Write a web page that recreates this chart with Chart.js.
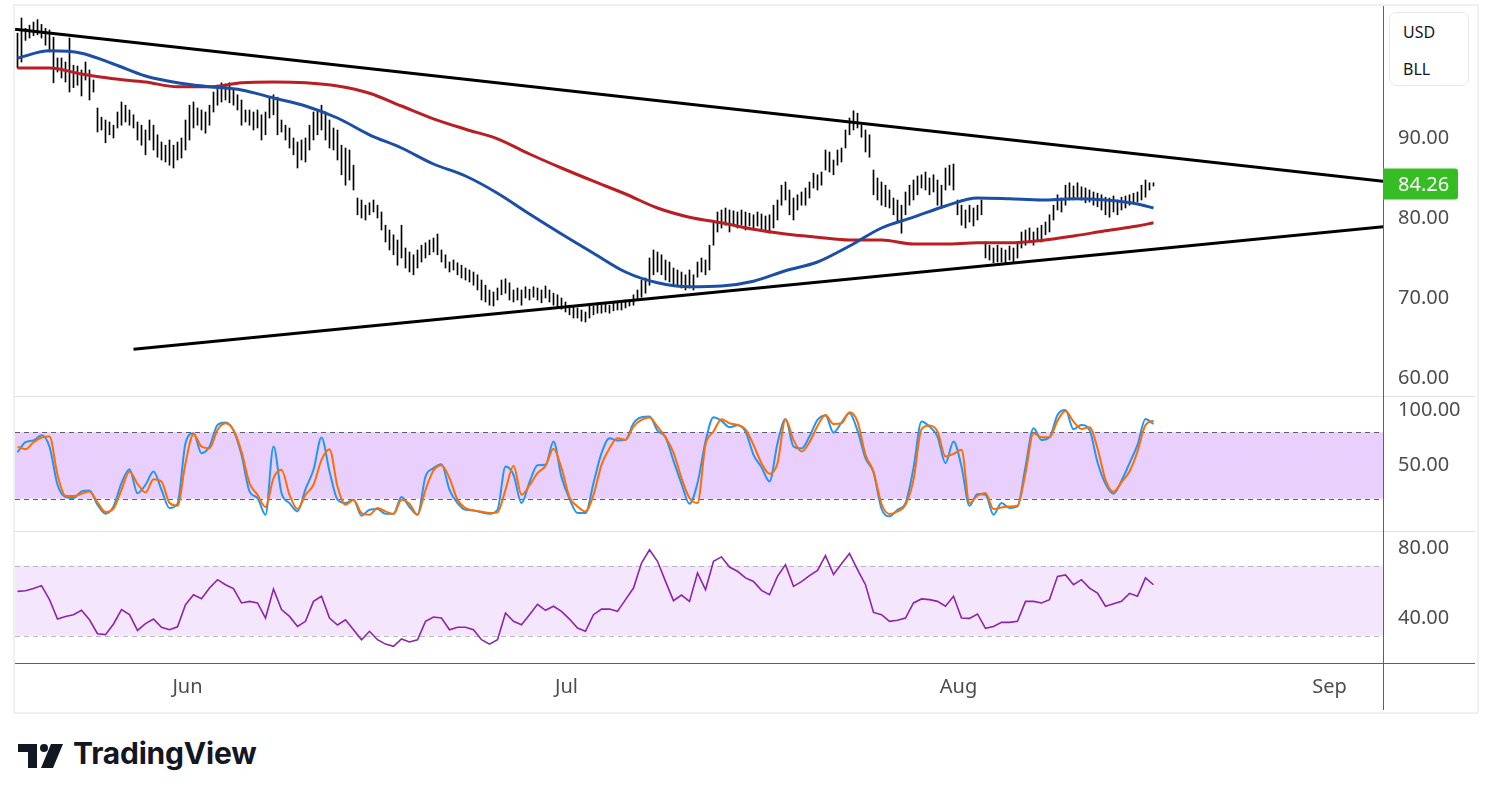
<!DOCTYPE html>
<html>
<head>
<meta charset="utf-8">
<title>BLL</title>
<script src="https://cdn.jsdelivr.net/npm/chart.js@4.4.1/dist/chart.umd.min.js"></script>
<style>
  body { margin: 0; width: 1491px; height: 801px; background: #fff; position: relative; overflow: hidden; font-family: "Noto Sans", sans-serif; }
  .frame { position: absolute; left: 13px; top: 4px; width: 1462px; height: 706px; border: 2px solid #f0f0f0; }
  .chart-box { position: absolute; left: 15px; top: 6px; width: 1460px; height: 704px; }
  .unit-box { position: absolute; left: 1389px; top: 12px; width: 78px; height: 72px; border: 1px solid #e8e8e8; border-radius: 7px; background: #fff; color: #131722; font-size: 16px; }
  .unit-box div { position: absolute; left: 13px; }
  .logo { position: absolute; left: 18px; top: 740px; height: 34px; }
  .logo svg { position: absolute; left: 0; top: 4px; }
  .logo span { position: absolute; left: 55px; top: -5px; font-family: Inter, sans-serif; font-weight: 700; font-size: 30px; color: #131722; letter-spacing: -0.2px; white-space: nowrap; }
</style>
</head>
<body>
<div class="frame"></div>
<div class="chart-box"><canvas id="priceChart"></canvas></div>
<div class="unit-box"><div style="top:8px">USD</div><div style="top:45px">BLL</div></div>
<div class="logo">
  <svg width="46" height="24" viewBox="0 0 46 24">
    <path d="M0 0 H19 V24 H10 V8 H0 Z" fill="#131722"/>
    <circle cx="26" cy="4" r="4" fill="#131722"/>
    <path d="M33 0 H45 L35 24 H23 Z" fill="#131722"/>
  </svg>
  <span>TradingView</span>
</div>
<script>
// price bars, one per session slot
const barHigh = [
  103.1, 105.0, 103.7, 104.1, 104.5, 104.8, 104.2, 103.7, 103.5, 102.6,
  100.0, 100.0, 99.5, 102.5, 99.1, 99.0, 98.5, 99.5, 98.5, 97.25,
  93.75, 92.6, 92.25, 92.0, 91.6, 93.25, 94.5, 94.1, 93.5, 92.9,
  92.0, 91.6, 91.0, 92.25, 91.6, 90.4, 89.5, 89.1, 89.75, 89.1,
  89.5, 90.0, 92.25, 94.1, 94.5, 93.75, 93.5, 93.25, 94.1, 95.75,
  96.6, 96.9, 96.75, 96.9, 96.0, 95.4, 94.75, 93.5, 93.5, 93.25,
  93.5, 92.9, 93.25, 95.0, 95.4, 95.1, 92.25, 91.6, 91.25, 90.0,
  89.5, 89.75, 90.0, 91.6, 93.25, 93.5, 94.1, 93.25, 92.25, 91.25,
  91.0, 89.1, 88.75, 88.5, 86.6, 82.5, 82.25, 81.6, 81.9, 82.25,
  81.6, 80.75, 79.1, 78.5, 77.9, 77.25, 79.1, 76.25, 75.75, 75.4,
  76.0, 76.6, 76.9, 77.25, 77.5, 78.0, 76.0, 75.4, 74.5, 74.75,
  74.4, 74.1, 73.75, 73.5, 73.25, 72.9, 72.25, 71.6, 71.0, 70.75,
  71.25, 72.25, 72.4, 71.9, 71.0, 71.25, 71.0, 71.4, 71.1, 71.4,
  71.25, 71.0, 71.5, 71.0, 70.6, 70.4, 70.0, 69.5, 69.1, 69.0,
  68.75, 68.5, 68.25, 69.1, 69.0, 69.4, 69.1, 69.4, 69.1, 69.4,
  69.5, 69.4, 69.75, 69.75, 70.4, 71.0, 72.25, 72.5, 75.0, 76.0,
  75.75, 75.4, 74.75, 74.5, 73.75, 73.5, 73.25, 72.9, 73.5, 72.9,
  74.5, 75.0, 74.75, 76.6, 79.5, 80.75, 81.0, 81.25, 81.0, 80.9,
  80.75, 81.0, 80.75, 80.6, 80.4, 80.75, 80.5, 80.25, 80.4, 81.6,
  82.25, 84.1, 84.5, 83.5, 82.5, 82.9, 83.25, 83.75, 84.5, 85.6,
  85.4, 85.75, 88.5, 88.25, 87.25, 88.5, 88.75, 91.0, 92.5, 93.4,
  93.1, 91.6, 91.0, 90.4, 86.0, 85.0, 84.5, 84.1, 83.5, 82.5,
  82.25, 81.6, 83.25, 84.1, 84.75, 85.25, 85.4, 85.75, 85.0, 85.4,
  84.75, 84.1, 86.25, 86.6, 86.75, 82.25, 81.6, 81.0, 81.6, 81.25,
  81.6, 82.25, 77.0, 76.6, 76.25, 76.6, 76.25, 76.0, 76.5, 76.25,
  76.9, 78.25, 78.5, 78.75, 78.25, 78.75, 79.1, 79.5, 80.4, 81.6,
  82.9, 82.5, 84.1, 84.4, 84.0, 84.4, 83.9, 83.75, 83.5, 83.25,
  83.1, 82.9, 82.6, 82.5, 82.75, 82.25, 82.6, 82.75, 82.9, 83.1,
  83.25, 84.1, 84.75, 84.4, 84.4
];
const barLow = [
  98.75, 99.5, 102.2, 102.5, 102.8, 102.9, 102.5, 101.6, 100.75, 96.9,
  98.25, 97.5, 97.0, 95.75, 96.3, 96.6, 95.25, 97.25, 94.75, 95.75,
  90.75, 91.0, 89.4, 90.4, 90.0, 91.25, 91.6, 92.0, 91.6, 91.25,
  89.75, 89.1, 87.9, 89.75, 88.5, 87.6, 87.25, 87.0, 86.6, 86.25,
  87.25, 87.5, 88.5, 89.75, 91.25, 91.6, 91.0, 90.6, 91.6, 93.25,
  94.1, 94.5, 94.75, 94.4, 94.1, 93.5, 91.6, 92.0, 91.6, 91.0,
  91.25, 89.75, 90.4, 92.5, 92.9, 90.4, 90.75, 89.75, 88.75, 87.9,
  86.25, 87.25, 87.0, 88.5, 89.75, 90.4, 91.0, 89.75, 88.75, 88.5,
  87.25, 85.4, 84.1, 84.75, 83.5, 80.4, 80.0, 79.75, 80.4, 80.75,
  80.0, 78.5, 77.0, 76.0, 75.4, 74.1, 75.0, 73.75, 73.25, 72.9,
  73.75, 74.5, 75.0, 75.4, 75.75, 75.4, 74.5, 73.75, 73.25, 73.5,
  72.9, 72.5, 72.25, 72.0, 71.6, 71.0, 69.75, 69.5, 69.1, 69.0,
  69.75, 70.4, 70.6, 69.75, 69.5, 69.75, 69.1, 70.0, 69.75, 70.1,
  69.75, 69.4, 70.0, 69.5, 69.1, 68.9, 68.6, 68.25, 67.9, 67.5,
  67.5, 67.1, 67.0, 67.5, 67.9, 68.1, 68.1, 68.25, 68.1, 68.4,
  68.5, 68.5, 68.75, 69.0, 69.1, 69.75, 70.1, 70.6, 71.6, 72.9,
  73.25, 72.9, 72.25, 72.0, 71.6, 71.4, 71.25, 71.0, 71.25, 71.0,
  72.6, 73.25, 72.9, 73.5, 76.6, 78.25, 78.75, 79.1, 78.25, 79.1,
  78.75, 79.1, 78.5, 79.0, 78.75, 79.0, 78.5, 78.25, 78.1, 78.75,
  79.75, 81.6, 82.25, 80.4, 79.75, 81.0, 81.6, 81.6, 82.5, 83.75,
  83.5, 84.1, 86.0, 85.75, 85.4, 86.6, 87.0, 88.75, 90.4, 91.0,
  91.25, 90.1, 88.25, 87.6, 82.9, 82.25, 81.6, 81.4, 81.25, 80.4,
  79.5, 78.1, 80.4, 81.6, 82.25, 82.9, 83.75, 83.5, 82.9, 83.25,
  81.6, 81.25, 83.5, 84.1, 83.5, 80.4, 79.1, 78.75, 79.5, 79.0,
  79.75, 80.4, 75.0, 74.75, 74.4, 74.5, 74.5, 74.4, 74.75, 74.5,
  75.0, 76.25, 76.6, 77.0, 76.6, 77.25, 77.0, 77.9, 78.25, 79.75,
  81.0, 80.75, 81.6, 82.25, 82.25, 82.6, 82.25, 81.9, 82.0, 81.6,
  81.4, 81.0, 80.4, 80.1, 80.75, 80.4, 81.0, 81.25, 81.6, 81.9,
  82.0, 82.25, 82.6, 83.5, 84.0
];
const lastPrice = 84.26;

// moving averages, read every 8 bars
const maBars = [0, 8, 16, 24, 32, 40, 48, 56, 64, 72, 80, 88, 96, 104, 112, 120, 128, 136, 144,
  152, 160, 168, 176, 184, 192, 200, 208, 216, 224, 232, 240, 248, 256, 264, 272, 280, 284];
const maFast = [100.0, 100.9, 100.6, 99.25, 97.75, 96.9, 96.4, 96.0, 95.0, 94.0, 92.5, 90.4, 88.75,
  86.75, 85.25, 83.1, 80.5, 78.0, 75.6, 73.25, 71.9, 71.4, 71.5, 72.1, 73.4, 74.5, 76.5, 78.75,
  80.1, 81.5, 82.5, 82.4, 82.25, 82.4, 82.25, 81.75, 81.25];
const maSlow = [98.75, 98.75, 98.0, 97.4, 97.0, 96.4, 96.4, 96.9, 97.0, 96.9, 96.5, 95.6, 94.0,
  92.4, 91.1, 89.9, 88.0, 86.25, 84.6, 83.0, 81.25, 80.1, 79.4, 78.6, 78.0, 77.6, 77.25, 77.25,
  76.75, 76.75, 76.9, 76.9, 77.2, 77.75, 78.4, 79.0, 79.4];

// triangle trendlines
const trendTopX = [-0.6, 341.5];
const trendTopY = [103.6, 84.6];
const trendLowX = [29, 341.5];
const trendLowY = [63.6, 78.9];

// oscillators, read every 2 bars
const oscStep = 2;
const stochK = [
  62, 71, 72.5, 77.3, 67, 32.6, 21.5, 20.6, 26.6, 27.5,
  14.6, 6.5, 13.1, 34.1, 46.7, 25, 32.6, 44.6, 28.1, 11.6,
  15.5, 70.1, 79.1, 61.1, 67.1, 86.6, 88.7, 81.5, 59.6, 26.6,
  20.6, 5.6, 67.1, 25.1, 16.1, 8.6, 28.7, 46.1, 75.2, 44.6,
  19.1, 16.1, 19.1, 4.7, 10.1, 10.7, 6.5, 6.5, 21.5, 12.5,
  5.6, 40.1, 47.6, 51.2, 28.1, 16.1, 10.1, 9.5, 7.7, 6.5,
  10.1, 49.1, 41.6, 16.1, 35, 50.3, 50.6, 71.6, 39.5, 20,
  7.1, 7.1, 34.1, 61.1, 74.6, 72.5, 73.1, 88.1, 93.5, 94.1,
  81.5, 75.5, 54.2, 33.5, 15.5, 34.1, 71.6, 93.5, 90.2, 84.5,
  86.3, 80.6, 59.6, 48.5, 35.6, 70.1, 92, 67.1, 65.3, 76.1,
  91.1, 95, 79.7, 88.7, 97.1, 81.5, 56.6, 43.7, 11, 4.1,
  10.1, 16.1, 47.6, 89.6, 85.1, 76.1, 52.1, 71.6, 49.1, 13.7,
  24.2, 23.6, 5.6, 16.1, 11.6, 13.1, 49, 83.6, 73.1, 75.5,
  95.6, 100, 82.7, 86.6, 82.1, 53, 33.5, 24.5, 36.2, 52.1,
  68.6, 92, 87.5
];
const stochD = [
  67, 64.7, 71, 75.2, 76.1, 41.6, 22.7, 22.4, 24.5, 26.6,
  16.7, 8, 11, 28.1, 44.6, 33.5, 25.7, 37.7, 35.6, 16.1,
  13.7, 52.1, 78.2, 67.1, 65.6, 82.1, 88.1, 82.1, 62.6, 34.1,
  23.6, 12.5, 38.6, 46.1, 23.6, 10.7, 23.6, 32.6, 55.1, 64.7,
  31.1, 14.6, 19.1, 7.1, 5.6, 11.6, 8.6, 6.2, 19.1, 15.5,
  5.6, 28.1, 45.5, 50.3, 38.6, 19.1, 11.6, 9.5, 8.3, 7.1,
  7.7, 28.1, 49.7, 23.6, 32, 43.1, 49.7, 65, 47.6, 21.5,
  13.1, 8.6, 23.6, 50.6, 65.6, 74.6, 73.1, 85.1, 91.1, 93.2,
  85.1, 75.5, 61.7, 38.6, 20.6, 16.1, 68.6, 80.6, 91.7, 88.1,
  86.6, 82.7, 68.6, 52.1, 42.5, 52.1, 91.7, 73.1, 62.6, 71,
  85.7, 95.6, 87.5, 88.1, 98, 89.6, 59.6, 44.6, 15.5, 6.2,
  8.6, 14.6, 37.1, 82.7, 86, 80.6, 58.1, 60.5, 64.1, 16.1,
  22.7, 25.1, 10.7, 12.2, 13.1, 13.7, 43.1, 79.1, 75.5, 75.5,
  90.5, 99.2, 89.6, 83, 84.5, 65.6, 37.1, 26.3, 35, 44.6,
  62.6, 86.6, 90.5
];
const rsiValues = [
  55.3, 55.7, 56.9, 58.6, 50.6, 39.5, 41, 42, 44.5, 39.1,
  31.1, 30.6, 36.7, 44.9, 42, 33, 36.9, 39.5, 34.8, 33.4,
  35.1, 47.7, 53.4, 51.1, 57.2, 62, 59.1, 56.9, 48.7, 49.6,
  48.7, 40.1, 56.7, 44.9, 41, 35.3, 38.2, 49.6, 52.5, 40.1,
  36.1, 39.1, 33.4, 27.7, 32.5, 27.7, 25.2, 23.9, 28.1, 26.4,
  27.7, 38.2, 40.7, 40.1, 33.4, 34.8, 34.8, 33.4, 27.7, 25.2,
  27.7, 43, 38.2, 36.3, 42, 47.9, 44.5, 46.8, 43.9, 39.5,
  34.4, 32.5, 42, 45.2, 45.2, 43.9, 50.6, 57.2, 71.5, 79.1,
  72.5, 61, 50, 53.2, 49.6, 65.8, 56.3, 72.5, 75, 69.2,
  66.8, 63, 61, 55.9, 53.4, 63.9, 70.6, 58.2, 60.9, 64.3,
  67.3, 75.7, 65, 71.1, 76.9, 67.7, 59.1, 43.3, 42, 38.2,
  38.8, 40.1, 48.7, 51, 50.6, 49.6, 46.8, 52.5, 40.1, 39.9,
  42.4, 34.2, 35.3, 37.6, 37.6, 38.2, 49.6, 49.6, 48.7, 50.6,
  63.9, 64.7, 59.1, 62, 57.2, 54.4, 46.8, 48.3, 49.6, 54.2,
  52.5, 63, 59.1
];

// axes
const monthLabels = ["Jun", "Jul", "Aug", "Sep"];
const monthPos = [42.5, 137.25, 235.25, 328];
const priceTicks = [60, 70, 80, 90];
const stochTicks = [50, 100];
const rsiTicks = [40, 80];
const stochBand = [20, 80];
const rsiBand = [30, 70];

const axisFont = { family: "Noto Sans", size: 20 };
const axisColor = "#4d4d4d";

function toPoints(xs, ys) {
  return ys.map((y, j) => ({ x: xs[j], y: y }));
}

function oscPoints(values) {
  return values.map((v, k) => ({ x: k * oscStep, y: v }));
}

function noPadding(s) {
  s.paddingTop = 0;
  s.paddingBottom = 0;
  s.paddingLeft = 0;
  s.paddingRight = 0;
}

function paneScale(min, max, weight, tickList) {
  return {
    type: "linear",
    position: "right",
    stack: "panes",
    stackWeight: weight,
    min: min,
    max: max,
    grid: { display: false, drawTicks: false },
    border: { display: false },
    afterBuildTicks: (s) => { s.ticks = tickList.map((v) => ({ value: v })); },
    afterFit: (s) => { s.width = 92; noPadding(s); },
    ticks: { padding: 15, color: axisColor, font: axisFont, callback: (v) => v.toFixed(2) },
  };
}

function drawBand(ctx, area, scale, band, fill, dash) {
  const yTop = scale.getPixelForValue(band[1]);
  const yBot = scale.getPixelForValue(band[0]);
  ctx.save();
  ctx.fillStyle = fill;
  ctx.fillRect(area.left, yTop, area.right - area.left, yBot - yTop);
  ctx.strokeStyle = dash;
  ctx.lineWidth = 1;
  ctx.setLineDash([5, 4]);
  [yTop, yBot].forEach((y) => {
    ctx.beginPath();
    ctx.moveTo(area.left, Math.round(y) + 0.5);
    ctx.lineTo(area.right, Math.round(y) + 0.5);
    ctx.stroke();
  });
  ctx.restore();
}

const panePlugin = {
  id: "panes",
  beforeDatasetsDraw(chart) {
    const ctx = chart.ctx;
    const area = chart.chartArea;
    drawBand(ctx, area, chart.scales.yStoch, stochBand, "#e9d0fc", "#5d606b");
    drawBand(ctx, area, chart.scales.yRsi, rsiBand, "#f4e6fd", "#b8b8c0");
  },
  afterDraw(chart) {
    const ctx = chart.ctx;
    const area = chart.chartArea;
    const w = chart.width;
    const h = chart.height;
    ctx.save();
    // pane separators
    ctx.strokeStyle = "#e0e3eb";
    ctx.lineWidth = 1;
    [chart.scales.yStoch.top, chart.scales.yRsi.top].forEach((y) => {
      ctx.beginPath();
      ctx.moveTo(0, Math.round(y) + 0.5);
      ctx.lineTo(w, Math.round(y) + 0.5);
      ctx.stroke();
    });
    // price / time axis lines
    ctx.strokeStyle = "#5d606b";
    ctx.beginPath();
    ctx.moveTo(Math.round(area.right) + 0.5, 0);
    ctx.lineTo(Math.round(area.right) + 0.5, h);
    ctx.moveTo(0, Math.round(area.bottom) + 0.5);
    ctx.lineTo(w, Math.round(area.bottom) + 0.5);
    ctx.stroke();
    // last price tag
    const y = chart.scales.y.getPixelForValue(lastPrice);
    ctx.fillStyle = "#37bd24";
    ctx.beginPath();
    ctx.roundRect(area.right, y - 15.5, 75, 31, [0, 3, 3, 0]);
    ctx.fill();
    ctx.fillStyle = "#fff";
    ctx.font = "20px 'Noto Sans'";
    ctx.textBaseline = "middle";
    ctx.fillText(lastPrice.toFixed(2), area.right + 15, y + 1);
    ctx.restore();
  },
};

function createChart() {
  const ctx = document.getElementById("priceChart");
  const bars = barHigh.map((hi, i) => ({ x: i, y: [barLow[i], hi] }));
  const smooth = { cubicInterpolationMode: "monotone" };

  new Chart(ctx, {
    type: "line",
    data: {
      datasets: [
        { data: toPoints(trendTopX, trendTopY), borderColor: "#000", borderWidth: 3, yAxisID: "y", order: 0 },
        { data: toPoints(trendLowX, trendLowY), borderColor: "#000", borderWidth: 3, yAxisID: "y", order: 0 },
        { data: toPoints(maBars, maFast), borderColor: "#1b4ea6", borderWidth: 3, ...smooth, yAxisID: "y", order: 1 },
        { data: toPoints(maBars, maSlow), borderColor: "#b81e22", borderWidth: 3, ...smooth, yAxisID: "y", order: 1 },
        { type: "bar", data: bars, backgroundColor: "#000", barThickness: 1, yAxisID: "y", order: 2 },
        { data: oscPoints(stochD), borderColor: "#ff6d00", borderWidth: 2, ...smooth, yAxisID: "yStoch", order: 0 },
        { data: oscPoints(stochK), borderColor: "#2196f3", borderWidth: 2, ...smooth, yAxisID: "yStoch", order: 1 },
        { data: oscPoints(rsiValues), borderColor: "#8e24aa", borderWidth: 1.6, yAxisID: "yRsi", order: 0 },
      ],
    },
    options: {
      responsive: true,
      maintainAspectRatio: false,
      animation: false,
      devicePixelRatio: 1,
      layout: { padding: 0 },
      elements: { point: { radius: 0 }, line: { fill: false } },
      plugins: { legend: { display: false }, tooltip: { enabled: false } },
      scales: {
        x: {
          type: "linear",
          min: -0.625,
          max: 341.375,
          offset: false,
          grid: { display: false, drawTicks: false },
          border: { display: false },
          afterBuildTicks: (s) => { s.ticks = monthPos.map((v) => ({ value: v })); },
          afterFit: (s) => { s.height = 47; noPadding(s); },
          ticks: {
            padding: 12,
            maxRotation: 0,
            autoSkip: false,
            color: axisColor,
            font: axisFont,
            callback: (v) => monthLabels[monthPos.indexOf(v)],
          },
        },
        y: paneScale(57.75, 106.5, 390, priceTicks),
        yStoch: paneScale(-9.1, 112.7, 135, stochTicks),
        yRsi: paneScale(14.4, 89.8, 132, rsiTicks),
      },
    },
    plugins: [panePlugin],
  });
}

window.addEventListener("load", function () {
  createChart();
});
</script>
</body>
</html>
